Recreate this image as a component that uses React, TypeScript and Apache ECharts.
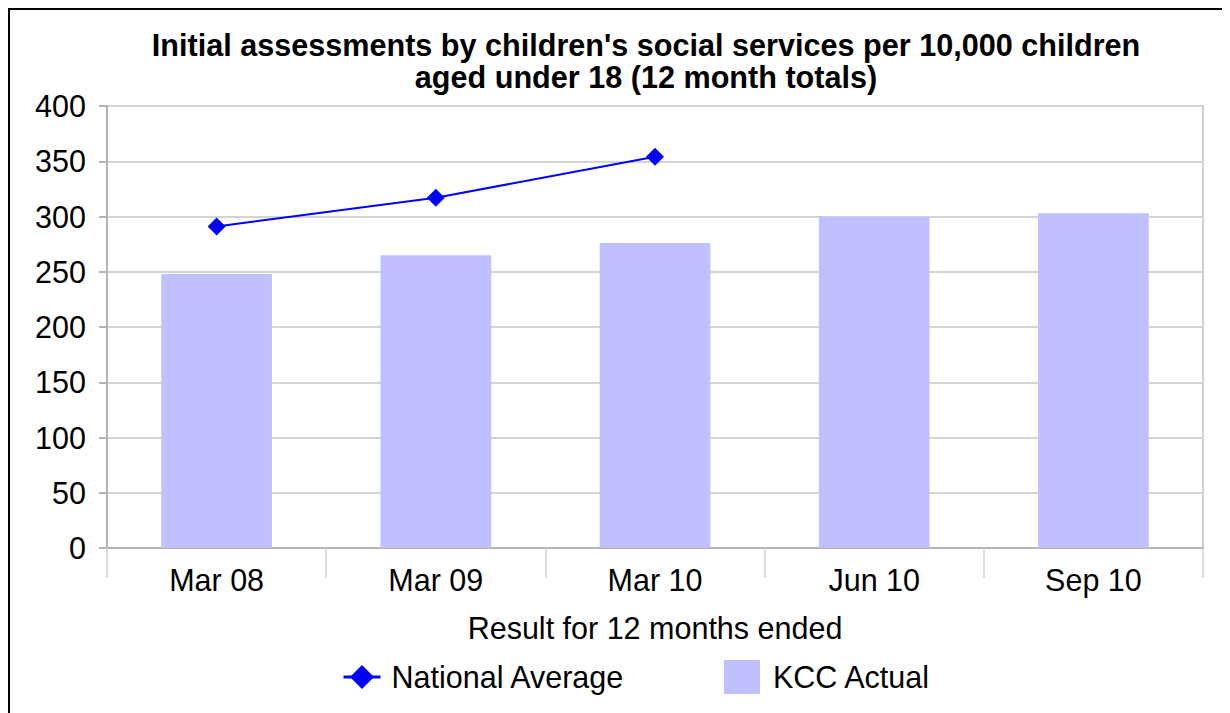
import React, { useEffect, useRef } from "react";
import * as echarts from "echarts";

const categories = ["Mar 08", "Mar 09", "Mar 10", "Jun 10", "Sep 10"];
const kccActual = [248, 265, 276, 300, 303];
const nationalAverage: (number | null)[] = [291, 317, 354, null, null];
const yMin = 0;
const yMax = 400;
const yInterval = 50;

const titleText =
  "Initial assessments by children's social services per 10,000 children\naged under 18 (12 month totals)";
const xAxisName = "Result for 12 months ended";
const seriesNames = ["National Average", "KCC Actual"];

const FONT = "'Liberation Sans', Arial, sans-serif";
const FS = 30.5;

export default function App() {
  const ref = useRef<HTMLDivElement>(null);

  useEffect(() => {
    document.documentElement.style.overflow = "hidden";
    if (!ref.current) return;
    const chart = echarts.init(ref.current, undefined, { renderer: "svg" });
    chart.setOption({
      animation: false,
      backgroundColor: "#ffffff",
      textStyle: { fontFamily: FONT, color: "#000" },
      title: {
        text: titleText,
        left: 631,
        top: 14,
        textAlign: "center",
        textStyle: {
          fontFamily: FONT,
          fontSize: 30.6,
          fontWeight: "bold",
          lineHeight: 32,
          color: "#000",
        },
      },
      legend: [
        {
          data: [{ name: seriesNames[0] }],
          left: 327,
          top: 645,
          itemWidth: 37,
          itemHeight: 30,
          lineStyle: { width: 3 },
          textStyle: {
            fontFamily: FONT,
            fontSize: FS,
            color: "#000",
            lineHeight: 34,
            padding: [0, 0, 0, 6],
          },
        },
        {
          data: [{ name: seriesNames[1], icon: "rect" }],
          left: 709,
          top: 645,
          itemWidth: 36,
          itemHeight: 34,
          textStyle: {
            fontFamily: FONT,
            fontSize: FS,
            color: "#000",
            lineHeight: 34,
            padding: [0, 0, 0, 8],
          },
        },
      ],
      grid: {
        left: 97,
        top: 96,
        width: 1096,
        height: 442,
        show: true,
        borderColor: "#d0d0d0",
        borderWidth: 2,
        backgroundColor: "transparent",
      },
      xAxis: {
        type: "category",
        data: categories,
        name: xAxisName,
        nameLocation: "middle",
        nameGap: 64,
        nameTextStyle: { fontFamily: FONT, fontSize: FS, color: "#000" },
        axisLine: { show: true, lineStyle: { color: "#b4b4b4", width: 2 } },
        axisTick: {
          show: true,
          interval: 0,
          length: 30,
          alignWithLabel: false,
          lineStyle: { color: "#d0d0d0", width: 1.5 },
        },
        axisLabel: {
          fontFamily: FONT,
          fontSize: FS,
          color: "#000",
          margin: 16,
          interval: 0,
        },
        splitLine: { show: false },
      },
      yAxis: {
        type: "value",
        min: yMin,
        max: yMax,
        interval: yInterval,
        axisLine: { show: true, lineStyle: { color: "#b4b4b4", width: 2 } },
        axisTick: { show: true, length: 8, lineStyle: { color: "#b4b4b4", width: 2 } },
        axisLabel: {
          fontFamily: FONT,
          fontSize: FS,
          color: "#000",
          margin: 21,
        },
        splitLine: { show: true, lineStyle: { color: "#d4d4d4", width: 2 } },
      },
      series: [
        {
          name: seriesNames[0],
          type: "line",
          data: nationalAverage,
          color: "#0000ff",
          lineStyle: { color: "#0000ff", width: 2 },
          itemStyle: { color: "#0000ff" },
          symbol: "diamond",
          symbolSize: 18,
          z: 5,
        },
        {
          name: seriesNames[1],
          type: "bar",
          data: kccActual,
          barWidth: "50.5%",
          color: "#c0c0ff",
          itemStyle: { color: "#c0c0ff" },
          z: 2,
        },
      ],
    });
    return () => chart.dispose();
  }, []);

  return (
    <div
      style={{
        width: 1222,
        height: 720,
        border: "2px solid #000",
        boxSizing: "border-box",
        background: "#fff",
      }}
    >
      <div ref={ref} style={{ width: 1218, height: 716 }} />
    </div>
  );
}
